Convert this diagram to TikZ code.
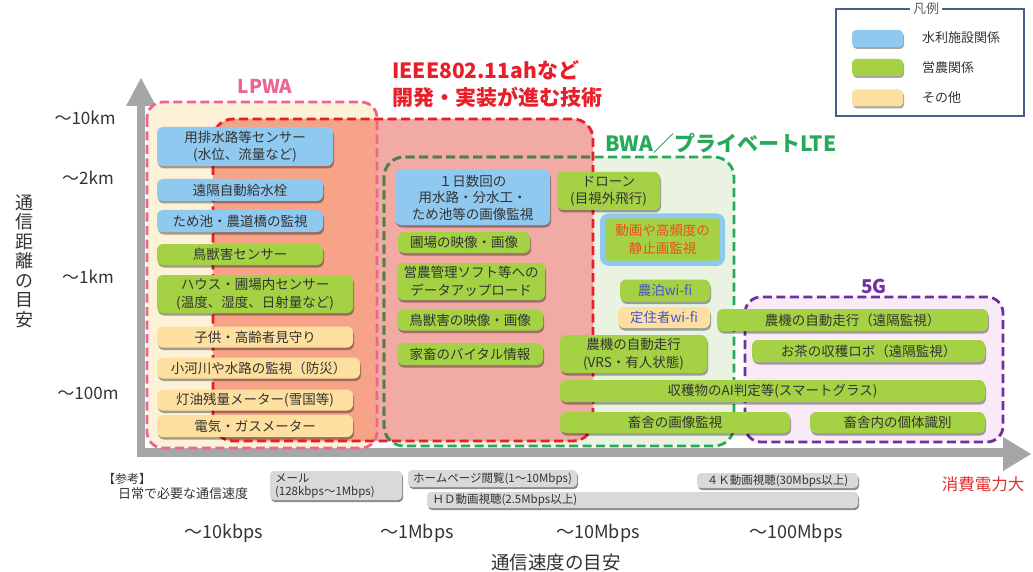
\documentclass[tikz,border=0pt]{standalone}
\usepackage{fontspec}
\setmainfont{Noto Sans CJK JP}
\usetikzlibrary{shadows}
\definecolor{bluec}{RGB}{143,201,240}
\definecolor{greenc}{RGB}{165,210,68}
\definecolor{yellowc}{RGB}{253,224,160}
\definecolor{txtc}{RGB}{51,51,51}
\definecolor{lpwafill}{RGB}{253,241,215}
\definecolor{bwafill}{RGB}{234,243,226}
\definecolor{fgfill}{RGB}{248,234,246}
\definecolor{ieeefill}{RGB}{242,170,164}
\definecolor{ieeeover}{RGB}{247,163,135}
\definecolor{lpwacol}{RGB}{238,100,145}
\definecolor{ieeecol}{RGB}{232,30,40}
\definecolor{bwacol}{RGB}{38,170,90}
\definecolor{bwaolive}{RGB}{95,120,70}
\definecolor{fgcol}{RGB}{112,48,160}
\definecolor{axisc}{RGB}{166,166,166}
\definecolor{grayc}{RGB}{217,217,217}
\definecolor{legcol}{RGB}{70,95,140}
\definecolor{wifitxt}{RGB}{70,85,200}
\definecolor{orangetxt}{RGB}{232,80,30}
\definecolor{redtxt}{RGB}{225,50,50}
\newcommand{\myboxfont}{\fontsize{13.5}{17.5}\selectfont}
\newcommand{\mysmallfont}{\fontsize{11.5}{13}\selectfont}
\newcommand{\myaxisfont}{\fontsize{17}{20}\selectfont}
\tikzset{
  bx/.style={rounded corners=6pt, inner sep=0pt, align=center, font=\myboxfont, text=txtc,
    drop shadow={shadow xshift=1pt, shadow yshift=-2.5pt, fill=black, opacity=.35}},
  bl/.style={bx, fill=bluec},
  gr/.style={bx, fill=greenc},
  ye/.style={bx, fill=yellowc},
  gy/.style={rounded corners=4pt, inner sep=0pt, fill=grayc, font=\mysmallfont, text=txtc,
    drop shadow={shadow xshift=1pt, shadow yshift=-2pt, fill=black, opacity=.45}},
  region/.style={line width=2.8pt, dash pattern=on 9pt off 4.5pt},
  swatch/.style={rounded corners=4pt, inner sep=0pt, minimum width=51pt, minimum height=17pt,
    drop shadow={shadow xshift=1pt, shadow yshift=-2pt, fill=black, opacity=.35}},
  legtext/.style={anchor=west, inner sep=0pt, font=\fontsize{13}{15}\selectfont, text=txtc},
  axl/.style={font=\myaxisfont, text=txtc, inner sep=0pt},
}
\begin{document}
\begin{tikzpicture}[x=1pt,y=-1pt]
\useasboundingbox (0,0) rectangle (1033,572);
\fill[white] (0,0) rectangle (1033,572);

% axes
\fill[axisc] (137,102) rectangle (145,457);
\fill[axisc] (126,106) -- (141,78) -- (156,106) -- cycle;
\fill[axisc] (137,448) rectangle (1006,457);
\fill[axisc] (1003,437) -- (1031,454) -- (1003,471) -- cycle;

% region fills
\fill[lpwafill, rounded corners=16pt] (147,102) rectangle (377,448);
\fill[bwafill, rounded corners=20pt] (384,157) rectangle (734,446);
\fill[fgfill, rounded corners=16pt] (745,297) rectangle (1003,442);
\fill[ieeefill, rounded corners=20pt] (213,119) rectangle (593,441);
\begin{scope}
  \clip[rounded corners=16pt] (147,102) rectangle (377,448);
  \fill[ieeeover, rounded corners=20pt] (213,119) rectangle (593,441);
\end{scope}

% region borders
\draw[region, lpwacol, rounded corners=16pt] (147,102) rectangle (377,448);
\draw[region, bwacol, rounded corners=20pt] (384,157) rectangle (734,446);
\begin{scope}
  \clip[rounded corners=20pt] (213,119) rectangle (593,441);
  \draw[region, bwaolive, rounded corners=20pt] (384,157) rectangle (734,446);
\end{scope}
\draw[region, ieeecol, rounded corners=20pt] (213,119) rectangle (593,441);
\draw[region, fgcol, rounded corners=16pt] (745,297) rectangle (1003,442);

% region labels
\node[font=\fontsize{19}{22}\selectfont\bfseries, text=lpwacol, inner sep=0pt] (lpwalbl) at (265,86) {LPWA};
\node[font=\fontsize{21}{27}\selectfont\bfseries, text=ieeecol, inner sep=0pt, anchor=north west, align=left] (ieeelbl) at (392,60) {IEEE802.11ahなど\\開発・実装が進む技術};
\node[font=\fontsize{21}{24}\selectfont\bfseries, text=bwacol, inner sep=0pt] (bwalbl) at (721,143) {BWA／プライベートLTE};
\node[font=\fontsize{19}{22}\selectfont\bfseries, text=fgcol, inner sep=0pt] (fglbl) at (874,286) {5G};

% LPWA boxes
\node[bl, minimum width=176pt, minimum height=39pt] (yohai) at (245,146.5) {用排水路等センサー\\(水位、流量など)};
\node[bl, minimum width=166pt, minimum height=22pt] (enkaku) at (240,190) {遠隔自動給水栓};
\node[bl, minimum width=166pt, minimum height=22pt] (tameike) at (240,221) {ため池・農道橋の監視};
\node[gr, minimum width=166pt, minimum height=21pt] (choju) at (240,254.5) {鳥獣害センサー};
\node[gr, minimum width=196pt, minimum height=38pt] (house) at (255,294) {ハウス・圃場内センサー\\(温度、湿度、日射量など)};
\node[ye, minimum width=196pt, minimum height=21pt] (kodomo) at (255,337) {子供・高齢者見守り};
\node[ye, minimum width=203pt, minimum height=21pt] (kasen) at (258.5,368) {小河川や水路の監視（防災）};
\node[ye, minimum width=196pt, minimum height=21pt] (toyu) at (255,400) {灯油残量メーター(雪国等)};
\node[ye, minimum width=196pt, minimum height=22pt] (denki) at (255,426) {電気・ガスメーター};

% middle boxes
\node[bl, minimum width=155pt, minimum height=55pt, font=\fontsize{13.5}{16.5}\selectfont] (ichinichi) at (472.5,197.5) {１日数回の\\用水路・分水工・\\ため池等の画像監視};
\node[gr, minimum width=132pt, minimum height=21pt] (hojo) at (464,242.5) {圃場の映像・画像};
\node[gr, minimum width=148pt, minimum height=37pt] (einou) at (471,281.5) {営農管理ソフト等への\\データアップロード};
\node[gr, minimum width=146pt, minimum height=21pt] (choju2) at (470,320) {鳥獣害の映像・画像};
\node[gr, minimum width=146pt, minimum height=22pt] (kachiku) at (470,354) {家畜のバイタル情報};

% BWA boxes
\node[gr, minimum width=103pt, minimum height=38pt] (drone) at (608.5,191) {ドローン\\(目視外飛行)};
\node[gr, draw=bluec, line width=5pt, minimum width=120pt, minimum height=47pt, text=orangetxt] (douga) at (662.5,239.5) {動画や高頻度の\\静止画監視};
\node[gr, minimum width=90pt, minimum height=22pt, text=wifitxt] (nohaku) at (665,290.5) {農泊wi-fi};
\node[ye, minimum width=92pt, minimum height=21pt, text=wifitxt] (teiju) at (664,317.5) {定住者wi-fi};
\node[gr, minimum width=147pt, minimum height=38pt] (noki1) at (633.5,354) {農機の自動走行\\(VRS・有人状態)};
\node[gr, minimum width=425pt, minimum height=22pt] (ai) at (772.5,391) {収穫物のAI判定等(スマートグラス)};
\node[gr, minimum width=230pt, minimum height=21pt] (chikusha) at (675,422.5) {畜舎の画像監視};

% 5G boxes
\node[gr, minimum width=271pt, minimum height=22pt] (noki2) at (852.5,320) {農機の自動走行（遠隔監視）};
\node[gr, minimum width=233pt, minimum height=22pt] (ocha) at (868.5,351) {お茶の収穫ロボ（遠隔監視）};
\node[gr, minimum width=175pt, minimum height=21pt] (kotai) at (897.5,422.5) {畜舎内の個体識別};

% legend
\draw[legcol, line width=1.2pt] (836,9) rectangle (1024,116);
\node[fill=white, inner sep=3pt, font=\fontsize{13}{15}\selectfont, text=txtc!80] (legtitle) at (926,9) {凡例};
\node[swatch, fill=bluec] (legblue) at (877.5,38.5) {};
\node[swatch, fill=greenc] (leggreen) at (877.5,67.5) {};
\node[swatch, fill=yellowc] (legyellow) at (877.5,98) {};
\node[legtext] (legt1) at (922,38) {水利施設関係};
\node[legtext] (legt2) at (922,68) {営農関係};
\node[legtext] (legt3) at (922,98) {その他};

% y axis labels
\node[axl] (km10) at (85,118) {～10km};
\node[axl] (km2) at (88,178) {～2km};
\node[axl] (km1) at (88,277) {～1km};
\node[axl] (m100) at (88,393) {～100m};
\node[font=\fontsize{18}{19.5}\selectfont, text=txtc, align=center, inner sep=0pt] (ylabel) at (25,261) {通\\信\\距\\離\\の\\目\\安};

% x axis labels
\node[font=\fontsize{18}{20}\selectfont, text=txtc, inner sep=0pt] (kbps10) at (224,533) {～10kbps};
\node[font=\fontsize{18}{20}\selectfont, text=txtc, inner sep=0pt] (mbps1) at (417,533) {～1Mbps};
\node[font=\fontsize{18}{20}\selectfont, text=txtc, inner sep=0pt] (mbps10) at (598,533) {～10Mbps};
\node[font=\fontsize{18}{20}\selectfont, text=txtc, inner sep=0pt] (mbps100) at (796,533) {～100Mbps};
\node[font=\fontsize{18.5}{20}\selectfont, text=txtc, inner sep=0pt] (xlabel) at (556,562) {通信速度の目安};
\node[font=\fontsize{16.5}{18}\selectfont, text=redtxt, inner sep=0pt] (power) at (983,484) {消費電力大};

% reference
\node[font=\fontsize{12}{14}\selectfont, text=txtc, inner sep=0pt, anchor=west] (sanko) at (103,479) {【参考】};
\node[font=\fontsize{13}{15}\selectfont, text=txtc, inner sep=0pt, anchor=west] (nichijo) at (118,494) {日常で必要な通信速度};
\node[gy, minimum width=132pt, minimum height=29pt, align=left, text width=122pt, font=\fontsize{11.5}{13}\selectfont] (mail) at (336,485.5) {メール\\(128kbps～1Mbps)};
\node[gy, minimum width=169pt, minimum height=17pt] (home) at (492.5,478.5) {ホームページ閲覧(1～10Mbps)};
\node[gy, minimum width=431pt, minimum height=16pt, text width=420pt, align=left] (hd) at (642.5,500) {ＨＤ動画視聴(2.5Mbps以上)};
\node[gy, minimum width=161pt, minimum height=15pt] (k4) at (777.5,480.5) {４Ｋ動画視聴(30Mbps以上)};
\end{tikzpicture}
\end{document}
